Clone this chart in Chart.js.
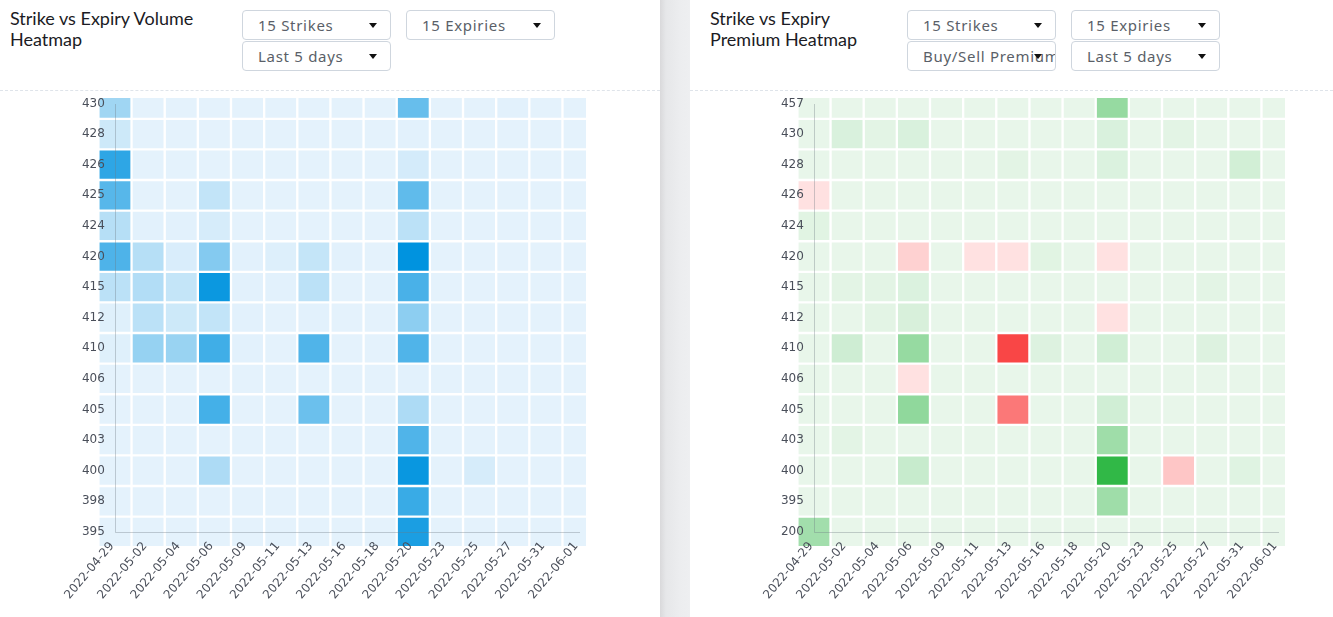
<!DOCTYPE html>
<html>
<head>
<meta charset="utf-8">
<script src="https://cdn.jsdelivr.net/npm/chart.js@4.4.1/dist/chart.umd.min.js"></script>
<style>
  html, body { margin: 0; padding: 0; }
  body { width: 1333px; height: 617px; overflow: hidden; background: #fff; position: relative; font-family: "Lato", "Open Sans", sans-serif; }
  .panel { position: absolute; top: 0; height: 617px; background: #fff; }
  .divider { position: absolute; left: 660px; top: 0; width: 30px; height: 617px;
    background: linear-gradient(to right, #d9d9db 0px, #e6e7e9 6px, #ecedef 20px, #eeeff1 30px); }
  .title { position: absolute; top: 8px; font-size: 18px; line-height: 21px; color: #1b1b24; font-family: "Lato", sans-serif; }
  .dd { position: absolute; width: 149px; height: 30px; border: 1px solid #cfd6de; border-radius: 4px; box-sizing: border-box;
        background: #fff; overflow: hidden; white-space: nowrap; }
  .dd span { position: absolute; left: 15px; top: 5px; font-size: 15px; color: #5a5f68; letter-spacing: 0.7px; font-family: "Noto Sans", sans-serif; font-weight: 400; line-height: 18px; }
  .dd i { position: absolute; right: 13px; top: 12px; width: 0; height: 0; border-left: 4px solid transparent; border-right: 4px solid transparent; border-top: 5px solid #111; }
  .dash { position: absolute; top: 90px; height: 0; border-top: 1px dashed #dfe4ea; }
  .cw { position: absolute; top: 92px; width: 620px; height: 525px; }
</style>
</head>
<body>
<div class="panel" style="left:0;width:660px;"></div>
<div class="divider"></div>
<div class="panel" style="left:690px;width:643px;"></div>

<div class="title" style="left:10px;">Strike vs Expiry Volume<br>Heatmap</div>
<div class="dd" style="left:242px;top:10px;"><span>15 Strikes</span><i></i></div>
<div class="dd" style="left:406px;top:10px;"><span>15 Expiries</span><i></i></div>
<div class="dd" style="left:242px;top:41px;"><span>Last 5 days</span><i></i></div>
<div class="dash" style="left:0;width:660px;"></div>

<div class="title" style="left:710px;">Strike vs Expiry<br>Premium Heatmap</div>
<div class="dd" style="left:907px;top:10px;"><span>15 Strikes</span><i></i></div>
<div class="dd" style="left:1071px;top:10px;"><span>15 Expiries</span><i></i></div>
<div class="dd" style="left:907px;top:41px;"><span>Buy/Sell Premium</span><i></i></div>
<div class="dd" style="left:1071px;top:41px;"><span>Last 5 days</span><i></i></div>
<div class="dash" style="left:690px;width:643px;"></div>

<div class="cw" style="left:0;"><canvas id="vol"></canvas></div>
<div class="cw" style="left:699px;"><canvas id="prem"></canvas></div>

<script>
// ---------- DATA ----------
const expiries = ['2022-04-29','2022-05-02','2022-05-04','2022-05-06','2022-05-09','2022-05-11','2022-05-13',
                  '2022-05-16','2022-05-18','2022-05-20','2022-05-23','2022-05-25','2022-05-27','2022-05-31','2022-06-01'];

// Volume heatmap: strikes top -> bottom, values per expiry (relative intensity 0-100)
const volumeStrikes = ['430','428','426','425','424','420','415','412','410','406','405','403','400','398','395'];
const volumeValues = [
  [30, 0, 0, 0, 0, 0, 0, 0, 0, 55, 0, 0, 1, 0, 0],
  [10, 0, 0, 0, 0, 0, 0, 0, 0,  1, 0, 0, 0, 0, 0],
  [80, 0, 0, 0, 0, 0, 0, 0, 0,  7, 0, 0, 0, 0, 0],
  [62, 0, 0,15, 0, 0, 0, 0, 0, 58, 0, 0, 0, 0, 0],
  [20, 1, 1, 6, 0, 0, 0, 0, 0, 18, 0, 0, 0, 0, 0],
  [66,20, 5,42, 1, 3,14, 1, 0,100, 0, 0, 0, 0, 0],
  [18,22,14,95, 1, 1,18, 0, 0, 68, 0, 0, 0, 0, 0],
  [ 2,18,10,15, 1, 0, 1, 0, 0, 38, 0, 0, 0, 0, 0],
  [ 2,34,33,72, 1, 0,65, 0, 0, 65, 0, 0, 0, 0, 0],
  [ 0, 0, 0, 0, 0, 0, 0, 0, 0,  1, 0, 0, 0, 0, 0],
  [ 0, 0, 0,70, 0, 0,53, 0, 0, 24, 0, 0, 0, 0, 0],
  [ 0, 0, 0, 0, 0, 0, 0, 0, 0, 65, 0, 0, 0, 0, 0],
  [ 0, 0, 0,24, 0, 0, 0, 0, 0, 96, 0, 6, 0, 0, 0],
  [ 0, 0, 0, 0, 0, 0, 0, 0, 0, 75, 0, 0, 0, 0, 0],
  [ 0, 0, 0, 0, 0, 0, 0, 0, 0, 88, 0, 0, 0, 0, 0]
];

// Premium heatmap: strikes top -> bottom, buy(+)/sell(-) premium intensity (-100..100)
const premiumStrikes = ['457','430','428','426','424','420','415','412','410','406','405','403','400','395','200'];
const premiumValues = [
  [ 0, 0, 0, 0, 0, 0,  0, 0, 0, 45, 0,  0, 0, 0, 0],
  [ 0, 8, 3, 8, 0, 0,  0, 0, 0,  8, 0,  3, 0, 0, 0],
  [ 0, 0, 0, 0, 0, 0,  3, 0, 0,  7, 0,  0, 0,12, 0],
  [-8, 0, 0, 0, 0, 0,  0, 0, 0,  0, 0,  0, 0, 0, 0],
  [ 4, 0, 0, 0, 0, 0,  0, 0, 0,  0, 0,  0, 0, 0, 0],
  [ 0, 0, 0,-17, 0,-8,-8, 4, 0, -8, 0,  0, 0, 0, 0],
  [ 0, 3, 3, 7, 0, 0,  0, 0, 0,  0, 0,  0, 3, 0, 0],
  [ 0, 0, 3, 9, 0, 0,  0, 0, 0, -8, 0,  0, 0, 0, 0],
  [ 0,14, 0,45, 0, 0,-100,6, 0, 13, 0,  0, 6, 0, 0],
  [ 0, 0, 0,-8, 0, 0,  0, 0, 0,  0, 0,  0, 0, 0, 0],
  [ 0, 0, 0,48, 0, 0,-70, 0, 0, 13, 0,  0, 0, 0, 0],
  [ 0, 3, 0, 0, 0, 0,  0, 0, 0, 40, 0,  0, 0, 0, 0],
  [ 0, 0, 0,18, 0, 0,  0, 0, 0,100, 0,-24, 0, 5, 0],
  [ 0, 0, 0, 0, 0, 0,  0, 0, 0, 40, 0,  0, 0, 0, 0],
  [38, 0, 0, 0, 0, 0,  0, 0, 0,  0, 0,  0, 0, 0, 0]
];

// ---------- COLOURS ----------
function mix(a, b, t) {
  const pa = [parseInt(a.substr(1,2),16), parseInt(a.substr(3,2),16), parseInt(a.substr(5,2),16)];
  const pb = [parseInt(b.substr(1,2),16), parseInt(b.substr(3,2),16), parseInt(b.substr(5,2),16)];
  return 'rgb(' + pa.map((v,i) => Math.round(v + (pb[i]-v)*t)).join(',') + ')';
}
const volColor = v => mix('#e4f2fc', '#0093df', Math.max(0, Math.min(1, v/100)));
const premColor = v => v >= 0 ? mix('#e8f6ea', '#31b847', Math.min(1, v/100))
                               : mix('#ffeeee', '#f94646', Math.min(1, -v/100));

// ---------- CHART ----------
function cellsFrom(values) {
  const n = values.length, out = [];
  values.forEach((row, ri) => {
    const r = n - 1 - ri;             // row index from the bottom
    row.forEach((v, c) => out.push({ x: c, y: [r - 0.5, r + 0.5], v: v }));
  });
  return out;
}

const axisL = {
  id: 'axisL',
  afterDatasetsDraw(chart) {
    const xs = chart.scales.x, ys = chart.scales.y, c = chart.ctx;
    const x0 = Math.round(xs.getPixelForValue(0)) + 0.5;
    const yb = Math.round(ys.getPixelForValue(0)) + 0.5;
    const xr = xs.getPixelForValue(14) + 1;
    c.save();
    c.strokeStyle = 'rgba(110,120,130,0.35)';
    c.lineWidth = 1;
    c.beginPath();
    c.moveTo(x0, ys.top + 6);
    c.lineTo(x0, yb);
    c.lineTo(xr, yb);
    c.stroke();
    c.restore();
  }
};

function makeChart(id, values, strikes, colorFn) {
  const n = strikes.length;
  return new Chart(document.getElementById(id), {
    type: 'bar',
    data: {
      datasets: [{
        data: cellsFrom(values),
        backgroundColor: ctx => colorFn(ctx.raw ? ctx.raw.v : 0),
        borderColor: '#ffffff',
        borderWidth: 1.5,
        borderSkipped: false,
        barPercentage: 1,
        categoryPercentage: 1,
        clip: { left: 0, top: 0, right: 0, bottom: 6 }
      }]
    },
    options: {
      animation: false,
      responsive: true,
      maintainAspectRatio: false,
      layout: { autoPadding: false, padding: { left: 0, right: 34, top: 6, bottom: 0 } },
      plugins: { legend: { display: false }, tooltip: { enabled: false } },
      scales: {
        x: {
          type: 'linear', min: -0.5, max: 14.21, offset: false,
          afterBuildTicks: s => { s.ticks = expiries.map((_, i) => ({ value: i })); },
          afterFit: s => { s.height = 76.5; s.paddingLeft = 0; s.paddingRight = 0; },
          ticks: { callback: v => expiries[v], autoSkip: false, maxRotation: 50, minRotation: 50,
                   mirror: true, padding: -4.8, z: 1, color: '#4a4f5a',
                   font: { family: 'DejaVu Sans', size: 12, lineHeight: '4px' } },
          grid: { display: false, drawTicks: false, offset: false },
          border: { display: false }
        },
        y: {
          type: 'linear', min: -0.28, max: 14.18, offset: false,
          afterBuildTicks: s => { s.ticks = strikes.map((_, i) => ({ value: i })); },
          afterFit: s => { s.width = 98.4; s.paddingTop = 0; s.paddingBottom = 0; },
          ticks: { callback: v => strikes[n - 1 - v], autoSkip: false, mirror: true, crossAlign: 'near',
                   padding: -16.5, z: 1, color: '#4a4f5a', font: { family: 'DejaVu Sans', size: 12 } },
          grid: { display: false, drawTicks: false },
          border: { display: false }
        }
      }
    },
    plugins: [axisL]
  });
}

makeChart('vol', volumeValues, volumeStrikes, volColor);
makeChart('prem', premiumValues, premiumStrikes, premColor);
</script>
</body>
</html>
